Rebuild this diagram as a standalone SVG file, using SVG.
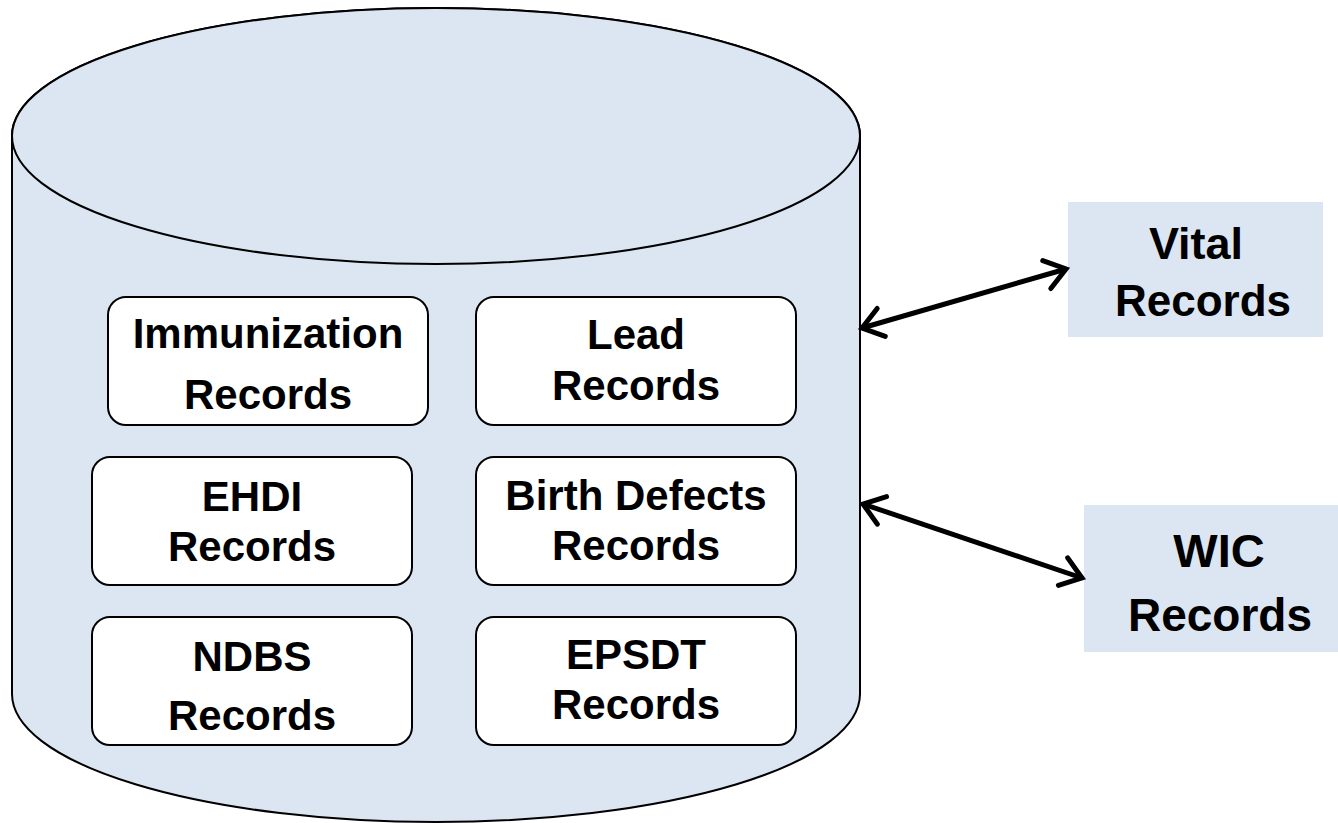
<svg xmlns="http://www.w3.org/2000/svg" width="1338" height="823" viewBox="0 0 1338 823">
  <style>
    .db { fill: #DCE6F2; stroke: #000; stroke-width: 2; }
    .rec { fill: #fff; stroke: #000; stroke-width: 2; }
    .ext { fill: #DCE6F2; stroke: none; }
    .lbl { font-family: "Liberation Sans", Arial, sans-serif; font-weight: bold; fill: #000; text-anchor: middle; }
    .in { font-size: 42px; }
    .link { stroke: #000; stroke-width: 5; fill: none; marker-start: url(#chev); marker-end: url(#chev); }
  </style>
  <defs>
    <marker id="chev" markerUnits="userSpaceOnUse" viewBox="-26 -18 30 36" markerWidth="30" markerHeight="36" refX="0" refY="0" orient="auto-start-reverse" overflow="visible">
      <path d="M-20,-14.5 L0,0 L-20,14.5" fill="none" stroke="#000" stroke-width="5" stroke-linecap="round" stroke-linejoin="miter"/>
    </marker>
  </defs>

  <rect width="1338" height="823" fill="#fff"/>

  <!-- database cylinder -->
  <g id="database">
    <path class="db" d="M12,136 A424,128 0 0 1 860,136 L860,694 A424,128 0 0 1 12,694 Z"/>
    <ellipse class="db" cx="436" cy="136" rx="424" ry="128"/>
  </g>

  <g id="immunization">
    <rect class="rec" x="108" y="297" width="320" height="128" rx="18"/>
    <text class="lbl in" x="268" y="348">Immunization</text>
    <text class="lbl in" x="268" y="409">Records</text>
  </g>
  <g id="lead">
    <rect class="rec" x="476" y="297" width="320" height="128" rx="18"/>
    <text class="lbl in" x="636" y="349">Lead</text>
    <text class="lbl in" x="636" y="400">Records</text>
  </g>
  <g id="ehdi">
    <rect class="rec" x="92" y="457" width="320" height="128" rx="18"/>
    <text class="lbl in" x="252" y="511">EHDI</text>
    <text class="lbl in" x="252" y="561">Records</text>
  </g>
  <g id="birth-defects">
    <rect class="rec" x="476" y="457" width="320" height="128" rx="18"/>
    <text class="lbl in" x="636" y="510">Birth Defects</text>
    <text class="lbl in" x="636" y="560">Records</text>
  </g>
  <g id="ndbs">
    <rect class="rec" x="92" y="617" width="320" height="128" rx="18"/>
    <text class="lbl in" x="252" y="671">NDBS</text>
    <text class="lbl in" x="252" y="730">Records</text>
  </g>
  <g id="epsdt">
    <rect class="rec" x="476" y="617" width="320" height="128" rx="18"/>
    <text class="lbl in" x="636" y="669">EPSDT</text>
    <text class="lbl in" x="636" y="719">Records</text>
  </g>

  <g id="vital-records">
    <rect class="ext" x="1068" y="202" width="255" height="135"/>
    <text class="lbl" x="1196" y="259" font-size="45">Vital</text>
    <text class="lbl" x="1203" y="316" font-size="44">Records</text>
  </g>
  <g id="wic-records">
    <rect class="ext" x="1084" y="505" width="254" height="147"/>
    <text class="lbl" x="1219" y="567" font-size="47">WIC</text>
    <text class="lbl" x="1220" y="631" font-size="46">Records</text>
  </g>

  <g id="connectors">
    <line class="link" x1="862" y1="328" x2="1066" y2="269"/>
    <line class="link" x1="863" y1="504" x2="1082" y2="578"/>
  </g>
</svg>
